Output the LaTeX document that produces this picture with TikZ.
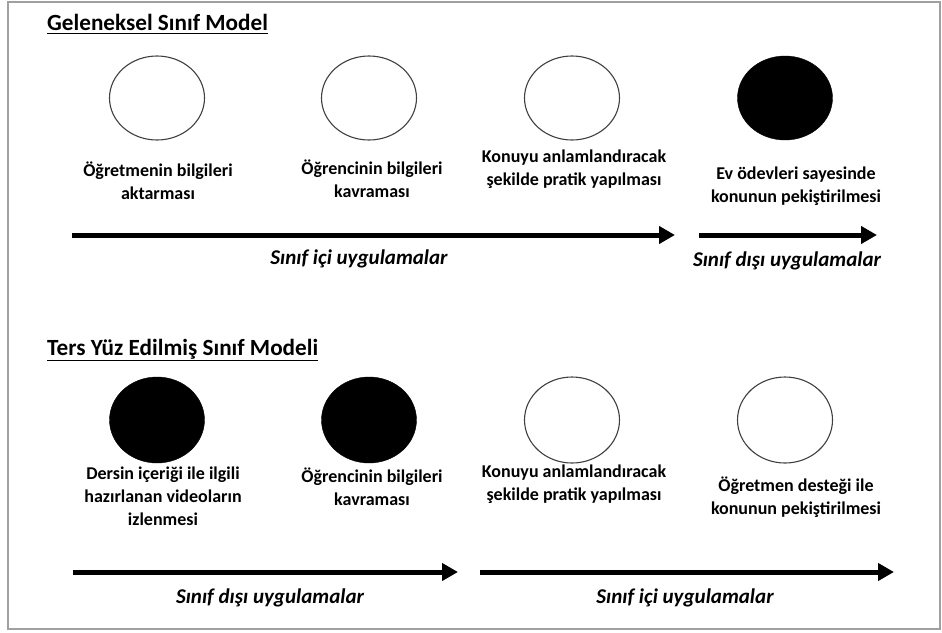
\documentclass[tikz,border=0pt]{standalone}
\usepackage{fontspec}
\setmainfont{Carlito}
\usetikzlibrary{arrows.meta,shapes.geometric}
\definecolor{framegray}{RGB}{160,160,160}
\tikzset{
  lbl/.style={font=\fontsize{18}{23}\selectfont\bfseries, align=center, inner sep=0pt},
  alabel/.style={font=\fontsize{21}{25}\selectfont\bfseries\itshape, inner sep=0pt, anchor=base},
  ttl/.style={font=\fontsize{23.2}{28}\selectfont\bfseries, inner sep=0pt, anchor=base west},
  wcirc/.style={ellipse, draw=black!75, line width=1.1pt, fill=white, minimum width=95pt, minimum height=84pt, inner sep=0pt},
  bcirc/.style={ellipse, draw=black, fill=black, minimum width=95pt, minimum height=84pt, inner sep=0pt},
  flow/.style={line width=5pt, -{Triangle[length=16pt,width=17pt]}}
}
\begin{document}
\begin{tikzpicture}[x=1pt,y=-1pt]
\useasboundingbox (0,0) rectangle (942,632);
\draw[framegray, line width=2pt] (8,2) rectangle (940,629);

% titles
\node[ttl] (t1) at (47,30) {Geleneksel Sınıf Model};
\draw[line width=1.6pt] ([yshift=-3.5pt]t1.base west) -- ([yshift=-3.5pt]t1.base east);
\node[ttl] (t2) at (47,355) {Ters Yüz Edilmiş Sınıf Modeli};
\draw[line width=1.6pt] ([yshift=-5.5pt]t2.base west) -- ([yshift=-5.5pt]t2.base east);

% top row
\node[wcirc] (c1) at (157,98) {};
\node[wcirc] (c2) at (369,98) {};
\node[wcirc] (c3) at (572,98) {};
\node[bcirc] (c4) at (785,98) {};

\node[lbl] (l1) at (158,181) {Öğretmenin bilgileri\\aktarması};
\node[lbl] (l2) at (372,179) {Öğrencinin bilgileri\\kavraması};
\node[lbl] (l3) at (574,169) {Konuyu anlamlandıracak\\şekilde pratik yapılması};
\node[lbl] (l4) at (796,186) {Ev ödevleri sayesinde\\konunun pekiştirilmesi};

\coordinate (a1s) at (72,235);
\coordinate (a1e) at (675,235);
\coordinate (a2s) at (699,235);
\coordinate (a2e) at (877,235);
\draw[flow] (a1s) -- (a1e);
\draw[flow] (a2s) -- (a2e);
\node[alabel] (al1) at (359,264) {Sınıf içi uygulamalar};
\node[alabel] (al2) at (787,266) {Sınıf dışı uygulamalar};

% bottom row
\node[bcirc, minimum height=86pt] (d1) at (157,420) {};
\node[bcirc, minimum height=86pt] (d2) at (369,420) {};
\node[wcirc, minimum height=86pt] (d3) at (572,420) {};
\node[wcirc, minimum height=86pt] (d4) at (785,420) {};

\node[lbl] (m1) at (163,496) {Dersin içeriği ile ilgili\\hazırlanan videoların\\izlenmesi};
\node[lbl] (m2) at (372,487) {Öğrencinin bilgileri\\kavraması};
\node[lbl] (m3) at (574,484) {Konuyu anlamlandıracak\\şekilde pratik yapılması};
\node[lbl] (m4) at (796,497) {Öğretmen desteği ile\\konunun pekiştirilmesi};

\coordinate (b1s) at (73,572);
\coordinate (b1e) at (458,572);
\coordinate (b2s) at (480,572);
\coordinate (b2e) at (894,572);
\draw[flow] (b1s) -- (b1e);
\draw[flow] (b2s) -- (b2e);
\node[alabel] (bl1) at (270,603) {Sınıf dışı uygulamalar};
\node[alabel] (bl2) at (685,603) {Sınıf içi uygulamalar};
\end{tikzpicture}
\end{document}
